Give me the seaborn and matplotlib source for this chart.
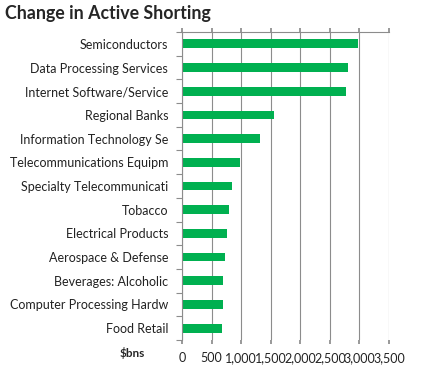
import numpy as np
import pandas as pd
import matplotlib
matplotlib.use('Agg')
import matplotlib.pyplot as plt
import seaborn as sns

sectors = [
    'Semiconductors', 'Data Processing Services', 'Internet Software/Service',
    'Regional Banks', 'Information Technology Se', 'Telecommunications Equipm',
    'Specialty Telecommunicati', 'Tobacco', 'Electrical Products',
    'Aerospace & Defense', 'Beverages: Alcoholic', 'Computer Processing Hardw',
    'Food Retail',
]
change_bns = [2970, 2800, 2765, 1550, 1315, 985, 850, 800, 765, 735, 700, 685, 670]
x_ticks = [0, 500, 1000, 1500, 2000, 2500, 3000, 3500]

df = pd.DataFrame({'sector': sectors, 'change': change_bns})

sns.set_theme(style='white')
plt.rcParams['font.family'] = ['Lato', 'DejaVu Sans']

fig = plt.figure(figsize=(4.31, 3.67), dpi=100)
ax = fig.add_axes([182 / 431, 1 - 340 / 367, 207 / 431, 308 / 367])

sns.barplot(data=df, x='change', y='sector', color='#00B050', saturation=1,
            width=0.37, linewidth=0, ax=ax)

grey = '#8c8c8c'
ax.set_xlim(0, 3500)
ax.set_ylim(12.5, -0.5)
ax.set_xticks(x_ticks)
ax.set_xticklabels([f'{v:,}' for v in x_ticks], fontsize=9, color='#222222')
ax.xaxis.grid(True, color=grey, linewidth=0.8)
ax.set_axisbelow(True)
ax.tick_params(axis='x', top=True, bottom=True, length=3, color=grey,
               labelbottom=True, labeltop=False, pad=6)

# category labels on minor ticks, boundary tick marks on major ticks
ax.set_yticks(np.arange(-0.5, 13, 1))
ax.set_yticklabels([])
ax.set_yticks(np.arange(len(sectors)), minor=True)
ax.set_yticklabels(sectors, minor=True, fontsize=9, color='#222222')
ax.tick_params(axis='y', which='major', left=True, length=4, color=grey, width=0.8)
ax.tick_params(axis='y', which='minor', left=False, length=0, pad=10)

ax.set_xlabel('')
ax.set_ylabel('')
for side in ['right', 'bottom']:
    ax.spines[side].set_visible(False)
for side in ['left', 'top']:
    ax.spines[side].set_color(grey)
    ax.spines[side].set_linewidth(0.8)

fig.text(5 / 431, 1 - 14 / 367, 'Change in Active Shorting', fontsize=12.8,
         fontweight='bold', va='center', ha='left')
fig.text(145 / 431, 1 - 353 / 367, '$bns', fontsize=8.5, fontweight='bold',
         va='center', ha='right')

fig.savefig('out.png', dpi=100)
